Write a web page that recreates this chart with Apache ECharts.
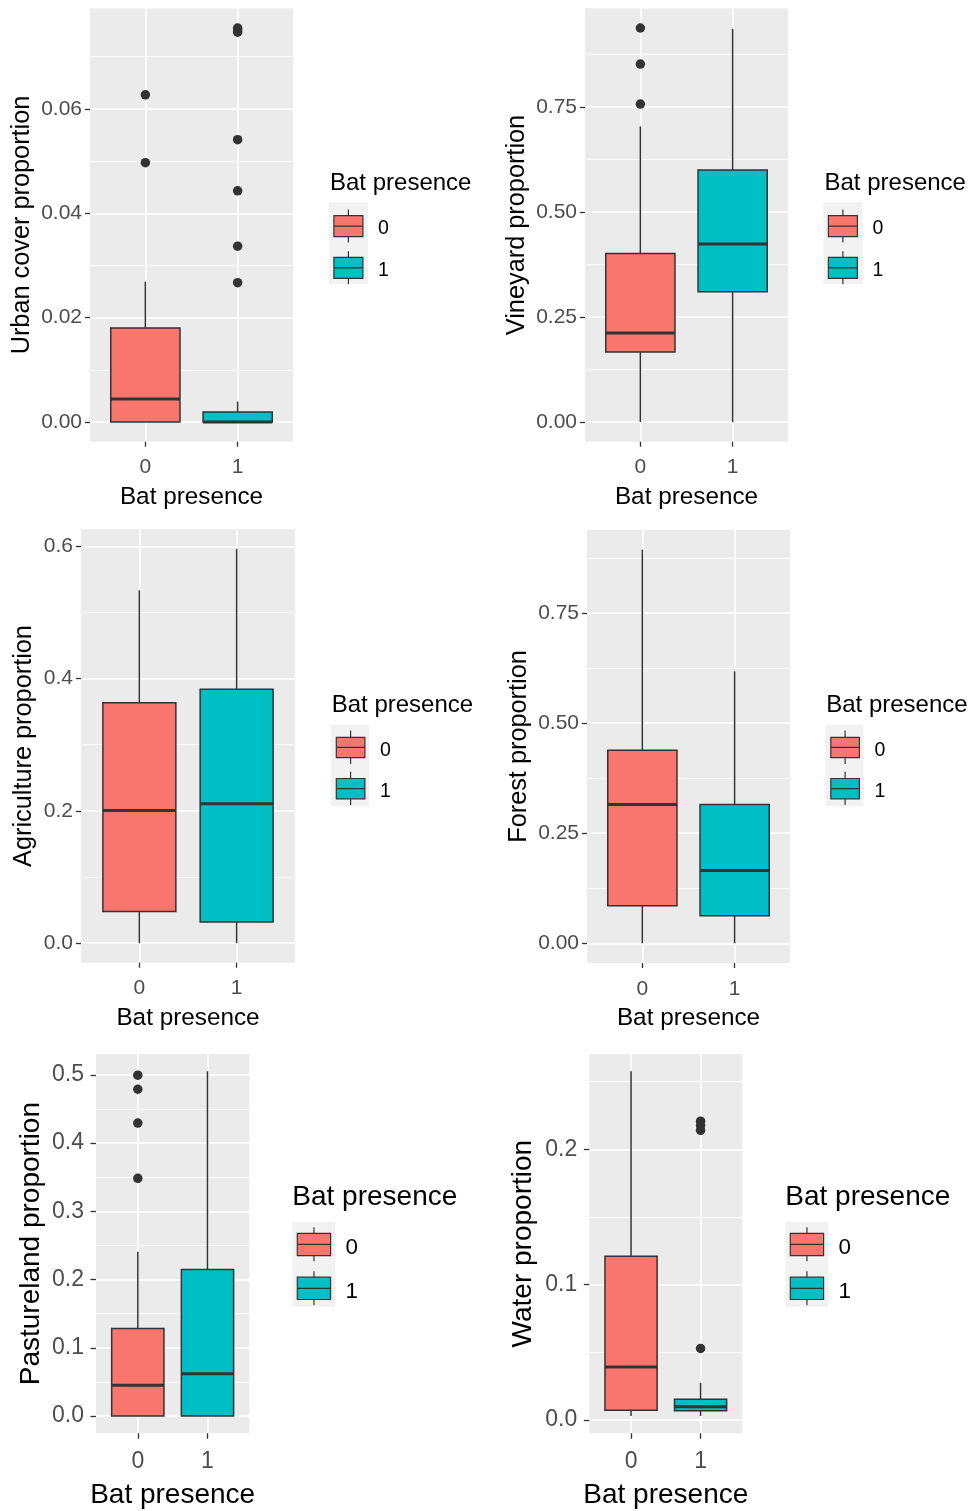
<!DOCTYPE html>
<html><head><meta charset="utf-8">
<script src="https://cdn.jsdelivr.net/npm/echarts@6/dist/echarts.min.js"></script>
<style>html,body{margin:0;padding:0;background:#fff}#chart{width:975px;height:1511px}</style>
</head><body><div id="chart"></div>
<script>
// ---------- data ----------
const categories = ['0', '1'];
// each box: [lower whisker, Q1, median, Q3, upper whisker] for Bat presence 0 and 1
const urbanBox = [[0, 0, 0.0044, 0.0180, 0.0269], [0, 0, 0, 0.0019, 0.0039]];
const urbanOut = [[0.0627, 0.0497], [0.0755, 0.0751, 0.0747, 0.0541, 0.0443, 0.0337, 0.0267]];
const vineyardBox = [[0, 0.1667, 0.2119, 0.4014, 0.7038], [0, 0.3100, 0.4238, 0.6000, 0.9360]];
const vineyardOut = [[0.938, 0.852, 0.757], []];
const agricultureBox = [[0, 0.0475, 0.2006, 0.3634, 0.5337], [0, 0.0317, 0.2107, 0.3840, 0.5962]];
const agricultureOut = [[], []];
const forestBox = [[0, 0.0853, 0.3153, 0.4385, 0.8938], [0, 0.0626, 0.1656, 0.3153, 0.6177]];
const forestOut = [[], []];
const pastureBox = [[0, 0, 0.0453, 0.1282, 0.2408], [0, 0, 0.0620, 0.2149, 0.5054]];
const pastureOut = [[0.4996, 0.4790, 0.4294, 0.3485], []];
const waterBox = [[0.003, 0.0072, 0.0393, 0.1210, 0.2576], [0.003, 0.0069, 0.0098, 0.0155, 0.0275]];
const waterOut = [[], [0.2207, 0.2175, 0.2140, 0.0529]];

// tick breaks
const urbanTicks = [0, 0.02, 0.04, 0.06];          const urbanMinor = [0.01, 0.03, 0.05, 0.07];
const vineyardTicks = [0, 0.25, 0.5, 0.75];        const vineyardMinor = [0.125, 0.375, 0.625, 0.875];
const agricultureTicks = [0, 0.2, 0.4, 0.6];       const agricultureMinor = [0.1, 0.3, 0.5];
const forestTicks = [0, 0.25, 0.5, 0.75];          const forestMinor = [0.125, 0.375, 0.625, 0.875];
const pastureTicks = [0, 0.1, 0.2, 0.3, 0.4, 0.5]; const pastureMinor = [0.05, 0.15, 0.25, 0.35, 0.45];
const waterTicks = [0, 0.1, 0.2];                  const waterMinor = [0.05, 0.15, 0.25];

const axisTitles = ['Urban cover proportion', 'Vineyard proportion', 'Agriculture proportion',
                    'Forest proportion', 'Pastureland proportion', 'Water proportion'];
const xTitle = 'Bat presence';
const legendTitle = 'Bat presence';

// ---------- styles / layout ----------
const FONT = 'Liberation Sans, Arial, Helvetica, sans-serif';
const fills = ['#F8766D', '#00BFC4'];
const DARK = '#333333';

const smallRow = {tickFont: 21, yTitleFont: 25.3, xTitleFont: 24.3, yLabelMargin: 8, xLabelMargin: 15.5, xNameGap: 43.5, tickLen: 5};
const bigRow = {tickFont: 23, yTitleFont: 28, xTitleFont: 28, yLabelMargin: 12, xLabelMargin: 17, xNameGap: 47.5, tickLen: 5.5};

const panels = [
  {box: urbanBox, out: urbanOut, major: urbanTicks, minor: urbanMinor, dec: 2, title: axisTitles[0],
   L: Object.assign({left: 90, top: 8.3, width: 203, height: 433.4, nameGap: 55}, smallRow),
   G: {bg: [329, 202.3, 39, 81.7], left: 333.3, top: 209, w: 29, h: 33, bt: 6, bb: 27, shift: 2.5, span: 40.5, tl: 330, tt: 171, tf: 24, lf: 19.5}},
  {box: vineyardBox, out: vineyardOut, major: vineyardTicks, minor: vineyardMinor, dec: 2, title: axisTitles[1],
   L: Object.assign({left: 585, top: 8.3, width: 203, height: 433.4, nameGap: 55}, smallRow),
   G: {bg: [823.5, 202.3, 39, 81.7], left: 827.8, top: 209, w: 29, h: 33, bt: 6, bb: 27, shift: 2.5, span: 40.5, tl: 824.5, tt: 171, tf: 24, lf: 19.5}},
  {box: agricultureBox, out: agricultureOut, major: agricultureTicks, minor: agricultureMinor, dec: 1, title: axisTitles[2],
   L: Object.assign({left: 81, top: 529.3, width: 214, height: 433.4, nameGap: 44}, smallRow),
   G: {bg: [331, 725, 38, 81], left: 335.7, top: 730, w: 28.6, h: 33.3, bt: 6.7, bb: 27, shift: 3, span: 40, tl: 331.7, tt: 693, tf: 24, lf: 19.5}},
  {box: forestBox, out: forestOut, major: forestTicks, minor: forestMinor, dec: 2, title: axisTitles[3],
   L: Object.assign({left: 587, top: 530, width: 203, height: 433, nameGap: 55}, smallRow),
   G: {bg: [825.5, 725, 38, 81], left: 830.2, top: 730, w: 28.6, h: 33.3, bt: 6.7, bb: 27, shift: 3, span: 40, tl: 826.2, tt: 693, tf: 24, lf: 19.5}},
  {box: pastureBox, out: pastureOut, major: pastureTicks, minor: pastureMinor, dec: 1, title: axisTitles[4],
   L: Object.assign({left: 96, top: 1054, width: 153.3, height: 379.3, nameGap: 51}, bigRow),
   G: {bg: [292.3, 1221.7, 43, 85], left: 296.7, top: 1226.7, w: 33.3, h: 34, bt: 6, bb: 28.3, shift: 3.2, span: 42.7, tl: 292.3, tt: 1183, tf: 28, lf: 22.4}},
  {box: waterBox, out: waterOut, major: waterTicks, minor: waterMinor, dec: 1, title: axisTitles[5],
   L: Object.assign({left: 589.3, top: 1054, width: 153, height: 379.3, nameGap: 52}, bigRow),
   G: {bg: [785.3, 1221.7, 43, 85], left: 789.7, top: 1226.7, w: 33.3, h: 34, bt: 6, bb: 28.3, shift: 3.2, span: 42.7, tl: 785.3, tt: 1183, tf: 28, lf: 22.4}}
];

function extentOf(box, out) {
  const vals = box.flat().concat(out.flat());
  const lo = Math.min.apply(null, vals), hi = Math.max.apply(null, vals);
  const pad = (hi - lo) * 0.05;
  return [lo - pad, hi + pad];
}

function makeRender(fill) {
  return function (params, api) {
    const x = api.value(0);
    const vals = [1, 2, 3, 4, 5].map(function (i) { return api.value(i); });
    const p = vals.map(function (v) { return api.coord([x, v]); });
    const half = api.size([0.75, 0], [x, vals[2]])[0] / 2;
    const cx = p[0][0];
    const lw = 1.5;
    const children = [];
    if (p[0][1] - p[1][1] > 0.5) children.push({type: 'line', shape: {x1: cx, y1: p[0][1], x2: cx, y2: p[1][1]}, style: {stroke: DARK, lineWidth: lw}});
    if (p[3][1] - p[4][1] > 0.5) children.push({type: 'line', shape: {x1: cx, y1: p[3][1], x2: cx, y2: p[4][1]}, style: {stroke: DARK, lineWidth: lw}});
    children.push({type: 'rect', shape: {x: cx - half, y: p[3][1], width: 2 * half, height: p[1][1] - p[3][1]},
         style: {fill: fill, stroke: DARK, lineWidth: lw}});
    children.push({type: 'line', shape: {x1: cx - half, y1: p[2][1], x2: cx + half, y2: p[2][1]}, style: {stroke: DARK, lineWidth: 3}});
    return {type: 'group', children: children};
  };
}

// legend key glyph; an invisible move-to at the bottom lowers the label centre by `shift`
function iconPath(G) {
  const w = G.w, h = G.h, m = w / 2, bt = G.bt, bb = G.bb, md = (bt + bb) / 2;
  return 'path://M' + m + ',0L' + m + ',' + bt +
    'M0,' + bt + 'L' + w + ',' + bt + 'L' + w + ',' + bb + 'L0,' + bb + 'Z' +
    'M0,' + md + 'L' + w + ',' + md +
    'M' + m + ',' + bb + 'L' + m + ',' + h +
    'M' + m + ',' + (h + 2 * G.shift);
}

const grid = [], xAxis = [], yAxis = [], series = [], legend = [], title = [], graphic = [];

panels.forEach(function (P, i) {
  const L = P.L, G = P.G;
  const ext = extentOf(P.box, P.out);
  grid.push({left: L.left, top: L.top, width: L.width, height: L.height, show: true,
             backgroundColor: '#EBEBEB', borderWidth: 0, containLabel: false, outerBoundsMode: 'none'});
  const tickStyle = {color: DARK, width: 1.3};
  xAxis.push({
    gridIndex: i, type: 'value', min: 0.4, max: 2.6, position: 'bottom',
    name: xTitle, nameLocation: 'middle', nameGap: L.xNameGap,
    nameTextStyle: {fontSize: L.xTitleFont, color: '#000', fontFamily: FONT},
    axisLine: {show: false, onZero: false},
    axisTick: {show: true, length: L.tickLen, lineStyle: tickStyle, customValues: [1, 2]},
    axisLabel: {customValues: [1, 2], formatter: function (v) { return categories[Math.round(v) - 1]; },
                margin: L.xLabelMargin, fontSize: L.tickFont, color: '#4D4D4D', fontFamily: FONT},
    splitLine: {show: true, lineStyle: {color: '#FFFFFF', width: 1.6}}
  });
  yAxis.push({
    gridIndex: i, type: 'value', min: ext[0], max: ext[1], position: 'left',
    name: P.title, nameLocation: 'middle', nameGap: L.nameGap, nameRotate: 90,
    nameTextStyle: {fontSize: L.yTitleFont, color: '#000', fontFamily: FONT},
    axisLine: {show: false, onZero: false},
    axisTick: {show: true, length: L.tickLen, lineStyle: tickStyle, customValues: P.major},
    axisLabel: {customValues: P.major, formatter: function (v) { return v.toFixed(P.dec); },
                margin: L.yLabelMargin, fontSize: L.tickFont, color: '#4D4D4D', fontFamily: FONT},
    splitLine: {show: true, lineStyle: {color: '#FFFFFF', width: 1.6}}
  });
  yAxis.push({
    gridIndex: i, type: 'value', min: ext[0], max: ext[1], position: 'left',
    axisLine: {show: false, onZero: false},
    axisTick: {show: false, customValues: P.minor},
    axisLabel: {show: false, customValues: P.minor},
    splitLine: {show: true, lineStyle: {color: '#FFFFFF', width: 0.8}}
  });
  categories.forEach(function (c, g) {
    series.push({
      type: 'custom', name: c, xAxisIndex: i, yAxisIndex: 2 * i,
      data: [[g + 1].concat(P.box[g])],
      encode: {x: 0, y: [1, 2, 3, 4, 5]},
      itemStyle: {color: fills[g]},
      renderItem: makeRender(fills[g]), silent: true, z: 3
    });
  });
  const outData = [];
  P.out.forEach(function (arr, g) { arr.forEach(function (v) { outData.push([g + 1, v]); }); });
  series.push({
    type: 'scatter', xAxisIndex: i, yAxisIndex: 2 * i, data: outData,
    symbolSize: 9.5, itemStyle: {color: DARK, opacity: 1}, silent: true, z: 4
  });
  const itemH = G.h + 2 * G.shift;
  legend.push({
    left: G.left, top: G.top, orient: 'vertical', padding: 0,
    itemWidth: G.w, itemHeight: itemH, itemGap: G.span - itemH, selectedMode: false, z: 5,
    textStyle: {fontSize: G.lf, color: '#000', fontFamily: FONT, padding: [0, 0, 0, 10]},
    data: categories.map(function (c, g) {
      return {name: c, icon: iconPath(G), itemStyle: {color: fills[g], borderColor: DARK, borderWidth: 1.2}};
    })
  });
  title.push({text: legendTitle, left: G.tl, top: G.tt, padding: 0,
              textStyle: {fontSize: G.tf, fontWeight: 'normal', color: '#000', fontFamily: FONT}});
  graphic.push({type: 'rect', z: 0, silent: true,
                shape: {x: G.bg[0], y: G.bg[1], width: G.bg[2], height: G.bg[3]},
                style: {fill: '#F2F2F2'}});
});

const chart = echarts.init(document.getElementById('chart'), null, {renderer: 'canvas'});
chart.setOption({
  animation: false,
  backgroundColor: '#FFFFFF',
  textStyle: {fontFamily: FONT},
  title: title, grid: grid, xAxis: xAxis, yAxis: yAxis,
  legend: legend, series: series, graphic: graphic
});
</script></body></html>
